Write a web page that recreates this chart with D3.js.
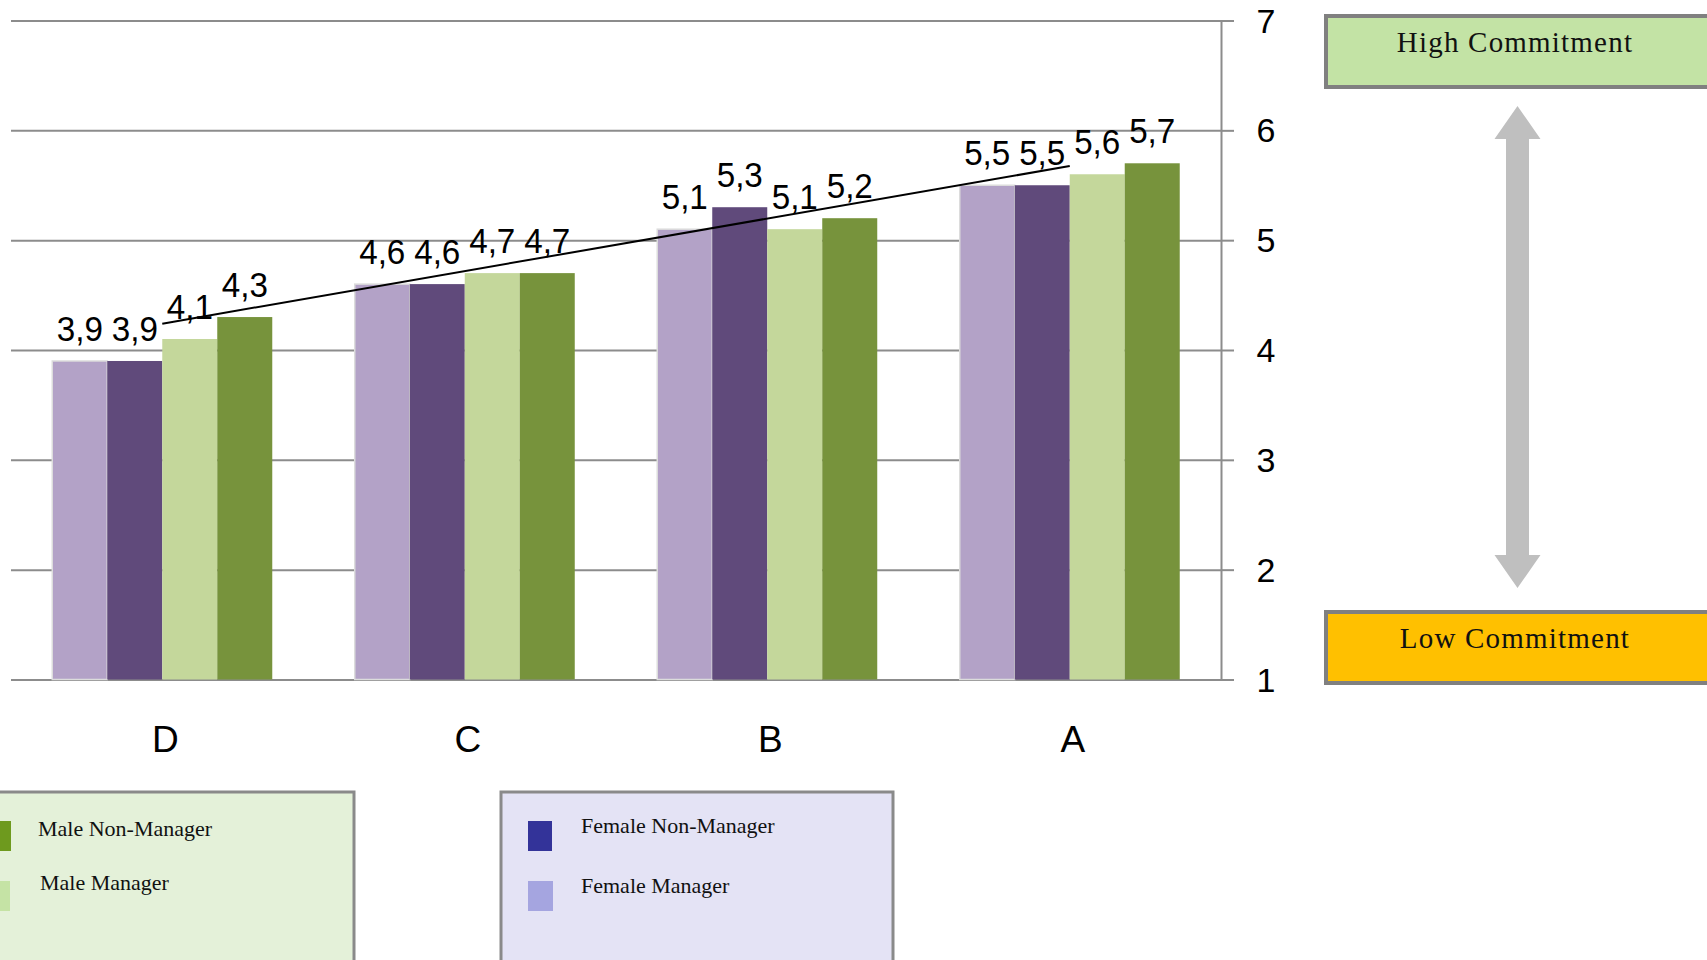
<!DOCTYPE html>
<html>
<head>
<meta charset="utf-8">
<script src="https://cdn.jsdelivr.net/npm/d3@7/dist/d3.min.js"></script>
<style>
  html, body { margin: 0; padding: 0; background: #fff; overflow: hidden; }
  svg { display: block; }
</style>
</head>
<body>
<svg id="chart" width="1707" height="960"></svg>
<script>
// Commitment scores by company, split by gender and role
const categories = ["D", "C", "B", "A"];
const seriesNames = ["Female Manager", "Female Non-Manager", "Male Manager", "Male Non-Manager"];
const femaleManager    = [3.9, 4.6, 5.1, 5.5];
const femaleNonManager = [3.9, 4.6, 5.3, 5.5];
const maleManager      = [4.1, 4.7, 5.1, 5.6];
const maleNonManager   = [4.3, 4.7, 5.2, 5.7];
const yTicks = [1, 2, 3, 4, 5, 6, 7];
// linear trend of the Male Non-Manager scores, at the first and last company
const trendCategories = ["D", "A"];
const trendValues = [4.24, 5.675];

const seriesValues = [femaleManager, femaleNonManager, maleManager, maleNonManager];
const barColors = ["#b3a2c7", "#604a7b", "#c4d79b", "#77933c"];

const svg = d3.select("#chart");

const plotLeft = 11, plotRight = 1221, plotTop = 20.5, plotBottom = 679.5;

const x = d3.scaleBand()
  .domain(categories)
  .range([plotLeft, plotRight])
  .paddingInner(0.2727)
  .paddingOuter(0.1364);

const xSeries = d3.scaleBand()
  .domain(seriesNames)
  .range([0, x.bandwidth()])
  .padding(0);

const y = d3.scaleLinear().domain([1, 7]).range([plotBottom, plotTop]);

// horizontal gridlines
const grid = svg.append("g")
  .attr("transform", `translate(${plotRight},0)`)
  .call(d3.axisLeft(y).tickValues(yTicks).tickSize(plotRight - plotLeft).tickFormat(""));
grid.select(".domain").remove();
grid.selectAll(".tick line").attr("stroke", "#8c8c8c").attr("stroke-width", 2);

// value axis on the right
const yAxis = svg.append("g")
  .attr("transform", `translate(${plotRight},0)`)
  .call(d3.axisRight(y).tickValues(yTicks).tickSize(13).tickPadding(24).tickFormat(d3.format("d")));
yAxis.select(".domain").attr("stroke", "#8c8c8c").attr("stroke-width", 2);
yAxis.selectAll(".tick line").attr("stroke", "#8c8c8c").attr("stroke-width", 2);
yAxis.selectAll(".tick text")
  .attr("font-family", "'Liberation Sans', Arial, sans-serif")
  .attr("font-size", 34)
  .attr("fill", "#000")
  .attr("text-anchor", "middle")
  .attr("x", 45)
  .attr("dy", "0.34em");

// bars
const rows = [];
categories.forEach((c, ci) => {
  seriesNames.forEach((s, si) => {
    rows.push({ cat: c, series: s, si, value: seriesValues[si][ci] });
  });
});

svg.append("g").selectAll("rect")
  .data(rows)
  .join("rect")
  .attr("x", d => x(d.cat) + xSeries(d.series))
  .attr("y", d => y(d.value))
  .attr("width", xSeries.bandwidth())
  .attr("height", d => y(1) - y(d.value))
  .attr("fill", d => barColors[d.si])
  .attr("stroke", d => d.si === 0 ? "#dcdcdc" : "none")
  .attr("stroke-width", 1.5);

// value labels
const fmt = v => v.toFixed(1).replace(".", ",");
svg.append("g").selectAll("text")
  .data(rows)
  .join("text")
  .attr("transform", d => `translate(${x(d.cat) + xSeries(d.series) + xSeries.bandwidth() / 2},${y(d.value) - 20}) scale(0.95,1)`)
  .attr("text-anchor", "middle")
  .attr("font-family", "'Liberation Sans', Arial, sans-serif")
  .attr("font-size", 35)
  .attr("fill", "#000")
  .text(d => fmt(d.value));

// trendline
svg.append("path")
  .attr("d", d3.line()(trendCategories.map((c, i) => [x(c) + x.bandwidth() / 2, y(trendValues[i])])))
  .attr("stroke", "#000")
  .attr("stroke-width", 2)
  .attr("fill", "none");

// category labels
svg.append("g").selectAll("text")
  .data(categories)
  .join("text")
  .attr("x", d => x(d) + x.bandwidth() / 2 + 3)
  .attr("y", 752)
  .attr("text-anchor", "middle")
  .attr("font-family", "'Liberation Sans', Arial, sans-serif")
  .attr("font-size", 37)
  .attr("fill", "#000")
  .text(d => d);

// legends
const serif = "'Liberation Serif', 'Times New Roman', serif";
function legendBox(bx, by, bw, bh, fill, items) {
  const g = svg.append("g");
  g.append("rect")
    .attr("x", bx).attr("y", by).attr("width", bw).attr("height", bh)
    .attr("fill", fill).attr("stroke", "#8a8a8a").attr("stroke-width", 3);
  items.forEach(it => {
    g.append("rect")
      .attr("x", it.sx).attr("y", it.sy).attr("width", it.sw).attr("height", 30)
      .attr("fill", it.color);
    g.append("text")
      .attr("x", it.tx).attr("y", it.ty)
      .attr("font-family", serif).attr("font-size", 22).attr("fill", "#111")
      .text(it.label);
  });
}
legendBox(-10, 792, 364, 200, "#e4f1d9", [
  { label: "Male Non-Manager", color: "#6e9a1e", sx: -5, sy: 821, sw: 16, tx: 38, ty: 836 },
  { label: "Male Manager", color: "#c5e3a5", sx: -5, sy: 881, sw: 15, tx: 40, ty: 890 }
]);
legendBox(501, 792, 392, 200, "#e4e3f5", [
  { label: "Female Non-Manager", color: "#333399", sx: 528, sy: 821, sw: 24, tx: 581, ty: 833 },
  { label: "Female Manager", color: "#a5a5e0", sx: 528, sy: 881, sw: 25, tx: 581, ty: 893 }
]);

// commitment scale annotation
function scaleBox(by, fill, label) {
  svg.append("rect")
    .attr("x", 1326).attr("y", by).attr("width", 400).attr("height", 71)
    .attr("fill", fill).attr("stroke", "#808080").attr("stroke-width", 4);
  svg.append("text")
    .attr("x", 1515).attr("y", by + 36)
    .attr("text-anchor", "middle")
    .attr("font-family", serif).attr("font-size", 29)
    .attr("letter-spacing", 1.2)
    .attr("fill", "#111")
    .text(label);
}
scaleBox(16, "#c3e3a5", "High Commitment");
scaleBox(612, "#ffc000", "Low Commitment");

const ax = 1517.5, tipTop = 106, tipBot = 588, headLen = 33, headHalf = 23, shaftHalf = 11.5;
svg.append("path")
  .attr("d", d3.line()([
    [ax, tipTop], [ax + headHalf, tipTop + headLen], [ax + shaftHalf, tipTop + headLen],
    [ax + shaftHalf, tipBot - headLen], [ax + headHalf, tipBot - headLen], [ax, tipBot],
    [ax - headHalf, tipBot - headLen], [ax - shaftHalf, tipBot - headLen],
    [ax - shaftHalf, tipTop + headLen], [ax - headHalf, tipTop + headLen]
  ]) + "Z")
  .attr("fill", "#bfbfbf");
</script>
</body>
</html>
